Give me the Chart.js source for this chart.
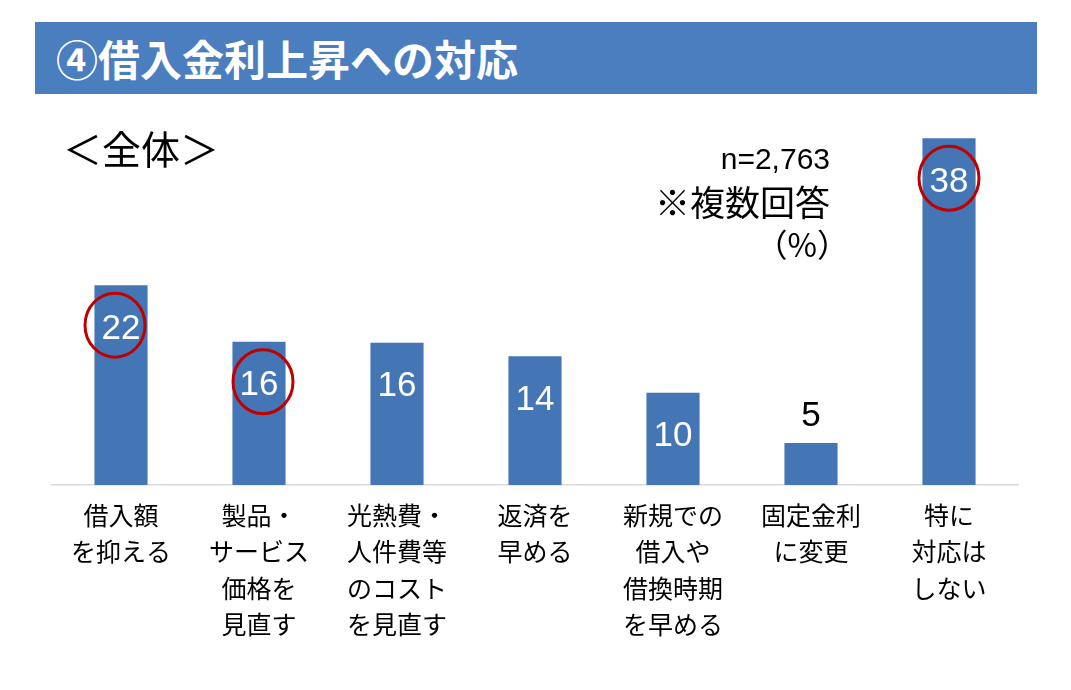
<!DOCTYPE html>
<html lang="ja">
<head>
<meta charset="utf-8">
<script src="https://cdn.jsdelivr.net/npm/chart.js@4"></script>
<style>
  html, body { margin: 0; padding: 0; background: #fff; }
  #wrap { position: relative; width: 1071px; height: 690px; overflow: hidden; }
  #c { position: absolute; left: 0; top: 0; }
  .title {
    position: absolute; left: 35px; top: 22px; width: 1002px; height: 72px;
    background: #4a7ebf; color: #fff; font-family: "Noto Sans CJK JP", sans-serif;
    font-weight: bold; font-size: 42px; line-height: 72px; padding-left: 21px; box-sizing: border-box;
  }
  .sub {
    position: absolute; left: 63px; top: 125px; font-family: "Noto Sans CJK JP", sans-serif;
    font-size: 39px; line-height: 45px; color: #000;
  }
  .note {
    position: absolute; text-align: right; color: #000; white-space: nowrap;
  }
</style>
</head>
<body>
<div id="wrap">
  <canvas id="c" width="1071" height="690"></canvas>
  <div class="title">④借入金利上昇への対応</div>
  <div class="sub">＜全体＞</div>
  <div class="note" style="right:241px;top:141px;font-family:'Liberation Sans',sans-serif;font-size:30px;line-height:36px;">n=2,763</div>
  <div class="note" style="right:241px;top:180px;font-family:'Noto Sans CJK JP',sans-serif;font-size:35px;line-height:41px;">※複数回答</div>
  <div class="note" style="right:222px;top:223px;font-family:'Noto Sans CJK JP',sans-serif;font-size:32px;line-height:40px;">（%）</div>
</div>
<script>
// ---- data ----
const categories = [
  ["借入額", "を抑える"],
  ["製品・", "サービス", "価格を", "見直す"],
  ["光熱費・", "人件費等", "のコスト", "を見直す"],
  ["返済を", "早める"],
  ["新規での", "借入や", "借換時期", "を早める"],
  ["固定金利", "に変更"],
  ["特に", "対応は", "しない"]
];
const shares = [21.9, 15.7, 15.6, 14.1, 10.1, 4.6, 38.0];
const circledIndices = [0, 1, 6];

// ---- plugins ----
const valueLabels = {
  id: 'valueLabels',
  afterDatasetsDraw(chart) {
    const ctx = chart.ctx;
    const meta = chart.getDatasetMeta(0);
    ctx.save();
    ctx.font = '35px "Liberation Sans", sans-serif';
    ctx.textAlign = 'center';
    ctx.textBaseline = 'middle';
    meta.data.forEach((bar, i) => {
      const v = chart.data.datasets[0].data[i];
      const txt = String(Math.round(v));
      if (bar.base - bar.y > 70) {
        ctx.fillStyle = '#ffffff';
        ctx.fillText(txt, bar.x, bar.y + 44);
      } else {
        ctx.fillStyle = '#000000';
        ctx.fillText(txt, bar.x, bar.y - 27);
      }
    });
    ctx.restore();
  }
};
const circles = {
  id: 'circles',
  afterDatasetsDraw(chart, args, opts) {
    const ctx = chart.ctx;
    const meta = chart.getDatasetMeta(0);
    ctx.save();
    ctx.strokeStyle = '#c00000';
    ctx.lineWidth = 3;
    circledIndices.forEach((idx, k) => {
      const bar = meta.data[idx];
      const dx = (opts.nudgeX && opts.nudgeX[k]) || 0;
      ctx.beginPath();
      ctx.ellipse(bar.x + dx, bar.y + 40, 30, 32, 0, 0, Math.PI * 2);
      ctx.stroke();
    });
    ctx.restore();
  }
};

new Chart(document.getElementById('c'), {
  type: 'bar',
  data: {
    labels: categories,
    datasets: [{
      data: shares,
      backgroundColor: '#4475b5',
      barPercentage: 0.385,
      categoryPercentage: 1.0
    }]
  },
  options: {
    responsive: false,
    animation: false,
    layout: { padding: { left: 52, right: 53, top: 120, bottom: 0 } },
    plugins: {
      legend: { display: false },
      tooltip: { enabled: false },
      circles: { nudgeX: [-6, 4, 0] }
    },
    scales: {
      y: { display: false, min: 0, max: 40 },
      x: {
        grid: { display: false, drawTicks: false },
        border: { display: true, color: '#d9d9d9', width: 1.5 },
        ticks: {
          autoSkip: false, maxRotation: 0, minRotation: 0, padding: 12,
          color: '#000',
          font: { family: '"Noto Sans CJK JP", sans-serif', size: 25, lineHeight: 1.46 }
        },
        afterFit(scale) { scale.height = 205; }
      }
    }
  },
  plugins: [valueLabels, circles]
});
</script>
</body>
</html>
